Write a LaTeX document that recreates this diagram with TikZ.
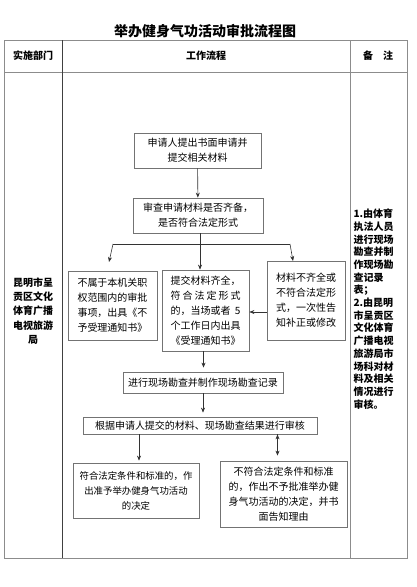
\documentclass[tikz,border=0pt]{standalone}
\usepackage{fontspec}
\setmainfont{Noto Sans CJK SC}
\usepackage{tikz}
\usetikzlibrary{positioning,arrows.meta}

\begin{document}
\begin{tikzpicture}[
    x=1pt, y=-1pt,
    ->,>={Stealth[length=5pt,width=4pt]},
    every node/.style={font=\fontsize{10}{15}\selectfont},
    flowbox/.style={draw=black!55, line width=0.8pt, align=center, inner sep=2pt},
    sidetext/.style={font=\bfseries\fontsize{10}{14.3}\selectfont},
    frameline/.style={-, draw=black!45, line width=0.9pt},
    colline/.style={-, draw=black!75, line width=0.8pt},
    flow/.style={draw=black!80, line width=0.6pt}
]
    \useasboundingbox (0,0) rectangle (416,587);

    % title and table
    \node[font=\bfseries\fontsize{14}{16}\selectfont] (title) at (205,31) {举办健身气功活动审批流程图};
    \draw[frameline] (4,40) rectangle (407,558);
    \draw[frameline] (4,72.7) -- (407,72.7);
    \draw[colline] (62,40) -- (62,558);
    \draw[frameline] (350,40) -- (350,558);

    \node[sidetext] (hdept) at (33,56)  {实施部门};
    \node[sidetext] (hflow) at (206,56) {工作流程};
    \node[sidetext] (hnote) at (378,56) {备\quad 注};

    \node[sidetext, align=center] (dept) at (33,311) {昆明市呈\\贡区文化\\体育广播\\电视旅游\\局};
    \node[sidetext, align=left, anchor=west, font=\bfseries\fontsize{10}{12.7}\selectfont] (note) at (350,309)
        {1.由体育\\执法人员\\进行现场\\勘查并制\\作现场勘\\查记录\\表；\\2.由昆明\\市呈贡区\\文化体育\\广播电视\\旅游局市\\场科对材\\料及相关\\情况进行\\审核。};

    % flow boxes
    \node[flowbox, minimum width=127pt, minimum height=35pt] (apply)  at (197.5,150.5) {申请人提出书面申请并\\提交相关材料};
    \node[flowbox, minimum width=130pt, minimum height=35pt] (check)  at (198,215.5)   {审查申请材料是否齐备，\\是否符合法定形式};
    \node[flowbox, align=left, minimum width=89pt, minimum height=69pt] (reject) at (112.5,305.5) {不属于本机关职\\权范围内的审批\\事项，出具《不\\予受理通知书》};
    \node[flowbox, align=left, minimum width=87pt, minimum height=81pt] (accept) at (205.5,310.5)
        {提交材料齐全，\\\makebox[70pt][s]{符 合 法 定 形 式}\\\makebox[70pt][s]{的，当场或者 5}\\个工作日内出具\\《受理通知书》};
    \node[flowbox, align=left, minimum width=78pt, minimum height=79pt] (amend)  at (306,300.5)   {材料不齐全或\\不符合法定形\\式，一次性告\\知补正或修改};
    \node[flowbox, minimum width=160pt, minimum height=21pt] (survey) at (203,382.5) {进行现场勘查并制作现场勘查记录};
    \node[flowbox, minimum width=234pt, minimum height=17pt] (review) at (200,425.5) {根据申请人提交的材料、现场勘查结果进行审核};
    \node[flowbox, minimum width=126pt, minimum height=55pt, font=\fontsize{9.4}{15}\selectfont] (grant) at (136,490.5)
        {符合法定条件和标准的，作\\出准予举办健身气功活动\\的决定};
    \node[flowbox, minimum width=127pt, minimum height=66pt] (deny)   at (283.5,494) {不符合法定条件和标准\\的，作出不予批准举办健\\身气功活动的决定，并书\\面告知理由};

    % split after the check
    \coordinate (split)  at (200,244);
    \coordinate (splitL) at (113,244);
    \coordinate (splitR) at (290,244);
    \coordinate (tipL)   at (109,262);
    \coordinate (tipR)   at (293,261);

    \path[flow] (apply) edge (check)
          (check.south -| split) edge[-] (split)
          (splitL) edge[-] (splitR)
          (splitL) edge (tipL)
          (splitR) edge (tipR)
          (split) edge (split |- accept.north)
          ([yshift=-11.5pt]amend.west) edge ([yshift=-11.5pt]amend.west -| accept.east)
          ([xshift=-2pt]accept.south) edge ([xshift=-2pt,yshift=4pt]accept.south |- survey.north)
          (survey) edge ([yshift=4pt]survey.south |- review.north)
          ([xshift=3pt]grant.north |- review.south) edge ([xshift=3pt,yshift=2pt]grant.north)
          ([xshift=-6pt]deny.north |- review.south) edge ([xshift=-6pt,yshift=5pt]deny.north);
\end{tikzpicture}
\end{document}
